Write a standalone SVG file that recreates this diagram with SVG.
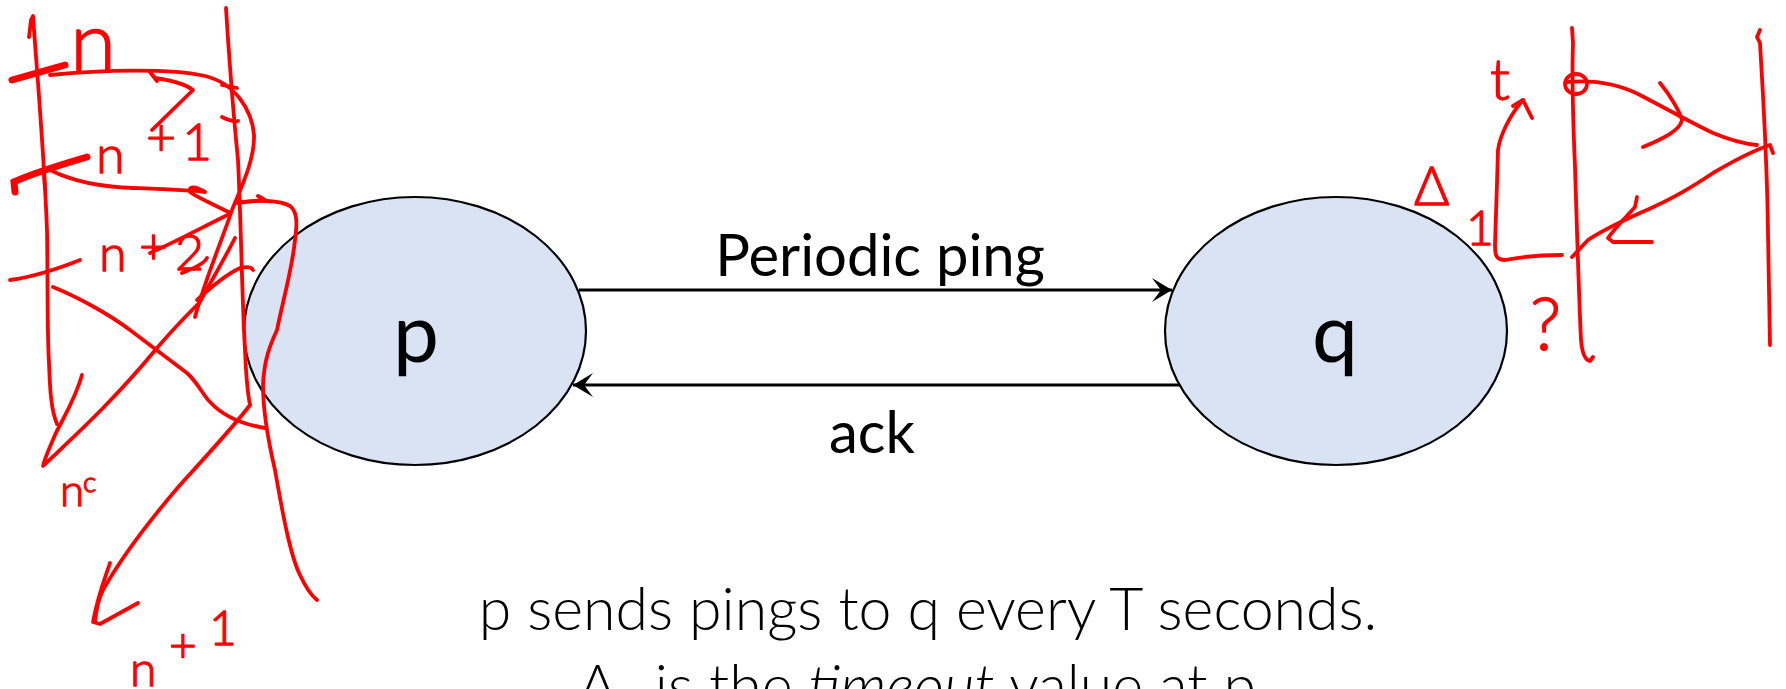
<svg xmlns="http://www.w3.org/2000/svg" width="1786" height="689" viewBox="0 0 1786 689">
  <style>
    .node { fill: #dae3f3; stroke: #000; stroke-width: 2.2; }
    .link { fill: none; stroke: #000; stroke-width: 3.2; }
    .lbl { font-family: Lato, "Open Sans", "Liberation Sans", sans-serif; fill: #000; }
    .cap { font-family: Lato, "Open Sans", "Liberation Sans", sans-serif; font-weight: 300; fill: #000; }
    .ink { fill: none; stroke: #ff0000; stroke-width: 3.8; stroke-linecap: round; stroke-linejoin: round; }
    .ink-bold { fill: none; stroke: #ff0000; stroke-width: 7; stroke-linecap: round; }
    .hand { font-family: Lato, "Open Sans", "Liberation Sans", sans-serif; font-weight: 300; fill: #ff0000; stroke: #ff0000; stroke-width: 1.3; stroke-linejoin: round; }
  </style>
  <defs>
    <marker id="head" viewBox="-21 -13 23 26" refX="0" refY="0" markerWidth="23" markerHeight="26" markerUnits="userSpaceOnUse" orient="auto">
      <path d="M0,0 L-20,-12 L-11,0 L-20,12 Z" fill="#000"/>
    </marker>
  </defs>

  <rect width="1786" height="689" fill="#fff"/>

  <!-- process nodes -->
  <g id="node-p">
    <ellipse class="node" cx="415" cy="331" rx="171" ry="134"/>
    <text class="lbl" x="416" y="362" font-size="82" text-anchor="middle">p</text>
  </g>
  <g id="node-q">
    <ellipse class="node" cx="1336" cy="331" rx="171" ry="134"/>
    <text class="lbl" x="1335" y="362" font-size="82" text-anchor="middle">q</text>
  </g>

  <!-- messages between p and q -->
  <g id="connectors">
    <line class="link" x1="579" y1="290" x2="1172" y2="290" marker-end="url(#head)"/>
    <text class="lbl" x="880" y="276" font-size="58" text-anchor="middle">Periodic ping</text>
    <line class="link" x1="1180" y1="385" x2="573" y2="385" marker-end="url(#head)"/>
    <text class="lbl" x="872" y="453" font-size="58" text-anchor="middle">ack</text>
  </g>

  <!-- caption -->
  <g id="caption">
    <text class="cap" x="928" y="630" font-size="59" text-anchor="middle">p sends pings to q every  T seconds.</text>
    <text class="cap" x="924" y="707" font-size="59" text-anchor="middle">Δ<tspan font-size="38" dy="10">1</tspan><tspan dy="-10"> is the </tspan><tspan font-style="italic">timeout</tspan> value at p.</text>
  </g>

  <!-- red pen notes: timeline at p -->
  <g id="ink-left">
    <path class="ink" d="M29,37 L31,20 L33,16 C36,60 44,150 47,230 C48,290 47,330 49,363 C50,390 51,410 57,424"/>
    <path class="ink" d="M82,375 C75,400 62,420 55,435 C50,447 45,457 43,466 C70,440 110,405 157,348 C175,327 190,312 197,305"/>
    <path class="ink" d="M226,8 C228,40 234,120 238,160 C241,220 242,300 245,350 C246,375 247,390 250,405"/>
    <path class="ink" d="M250,405 C235,425 210,452 180,485 C150,520 120,560 103,590 C98,600 96,612 95,622"/>
    <path class="ink" d="M110,563 C105,578 98,595 93,622 L100,624 L138,603"/>

    <path class="ink-bold" d="M12,80 L65,65"/>
    <path class="ink" d="M50,75 C100,70 170,68 205,76 C235,83 252,110 254,135 C255,160 240,190 232,210 C222,240 205,280 195,317"/>
    <path class="ink" d="M222,85 L237,88"/>
    <path class="ink" d="M152,130 L193,90 C185,84 170,80 155,78 L150,72 M150,72 L157,81"/>
    <path class="ink" d="M222,117 C228,120 234,122 238,121"/>

    <path class="ink-bold" d="M15,192 L14,182 C30,174 60,165 87,157"/>
    <path class="ink" d="M44,172 L45,189"/>
    <path class="ink" d="M50,170 C70,180 100,187 133,188 C160,189 190,190 205,192 C195,186 188,186 190,192 C198,198 215,205 230,213"/>
    <path class="ink" d="M235,203 L265,200 L258,196"/>
    <path class="ink" d="M243,202 C255,200 280,200 290,206 C298,212 297,225 295,240 C292,270 283,300 277,330 C270,345 264,360 263,385 C263,410 268,440 275,470 C282,510 290,555 300,575 C306,588 312,596 317,600"/>
    <path class="ink" d="M230,214 C210,223 180,240 150,253"/>

    <path class="ink" d="M10,280 C25,278 50,272 80,260"/>
    <path class="ink" d="M53,287 C80,298 110,315 130,330 C150,345 170,360 187,373 C198,383 203,395 210,402 C222,415 240,424 265,428"/>
    <path class="ink" d="M235,238 C228,252 215,275 197,307"/>
    <path class="ink" d="M182,273 C195,268 205,262 207,258"/>
    <path class="ink" d="M197,300 C210,288 225,275 240,268 C248,266 252,268 253,270"/>

    <text class="hand" x="70" y="72" font-size="84">n</text>
    <text class="hand" font-size="52" x="96 146 182" y="173 155 160">n+1</text>
    <text class="hand" font-size="50" x="99 139 175" y="271 264 270">n+2</text>
    <text class="hand" font-size="44" x="60 83" y="506 492">n<tspan font-size="28">c</tspan></text>
    <text class="hand" font-size="48" x="130 169 209" y="686 662 645">n+1</text>
  </g>

  <!-- red pen notes: round trip at q -->
  <g id="ink-right">
    <path class="ink" d="M1572,28 L1573,43 C1572,70 1573,120 1575,167 C1577,230 1579,300 1581,340 C1582,352 1585,360 1590,361 L1593,357"/>
    <path class="ink" d="M1760,30 L1757,37 L1760,43 C1762,80 1767,150 1768,233 C1769,290 1770,330 1770,345"/>
    <ellipse class="ink" cx="1576" cy="84" rx="11" ry="10"/>
    <path class="ink" d="M1567,82 C1590,80 1615,82 1640,95 C1665,108 1690,122 1713,133 C1730,140 1745,144 1757,145"/>
    <path class="ink" d="M1660,83 C1670,95 1680,112 1682,120 C1680,130 1665,138 1643,147"/>
    <path class="ink" d="M1773,153 L1770,145 C1755,150 1735,160 1713,173 C1695,185 1675,198 1640,213 C1620,222 1600,232 1588,240 L1572,257"/>
    <path class="ink" d="M1637,197 L1635,207 C1628,215 1615,228 1608,238 L1613,242 L1652,242"/>
    <path class="ink" d="M1562,255 C1545,255 1520,257 1505,260 C1496,260 1495,255 1495,245 C1496,220 1497,180 1498,150 C1500,135 1510,115 1523,100"/>
    <path class="ink" d="M1513,106 L1523,100 L1532,118"/>

    <text class="hand" x="1490" y="100" font-size="58">t</text>
    <text class="hand" x="1414" y="205" font-size="54">Δ</text>
    <text class="hand" x="1466" y="245" font-size="48">1</text>
    <text class="hand" x="1530" y="350" font-size="72">?</text>
  </g>
</svg>
